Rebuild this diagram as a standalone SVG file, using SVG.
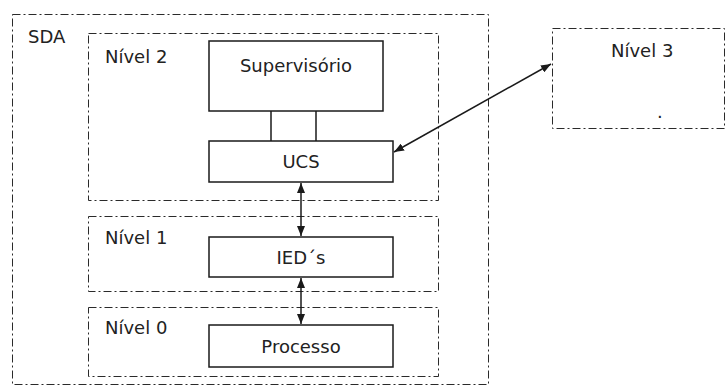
<svg xmlns="http://www.w3.org/2000/svg" width="726" height="385" viewBox="0 0 726 385">
  <style>
    .zone { fill: none; stroke: #2a2a2a; stroke-width: 1; stroke-dasharray: 8 3 2 3; }
    .box { fill: #ffffff; stroke: #1a1a1a; stroke-width: 1.5; }
    .link { fill: none; stroke: #1a1a1a; stroke-width: 1.5; }
    .lbl { font-family: "DejaVu Sans", "Liberation Sans", sans-serif; font-size: 18px; fill: #222222; }
    .mid { text-anchor: middle; }
  </style>
  <defs>
    <marker id="arrow" viewBox="0 0 10 8" refX="10" refY="4" markerWidth="10" markerHeight="8" markerUnits="userSpaceOnUse" orient="auto-start-reverse">
      <path d="M0,0 L10,4 L0,8 Z" fill="#1a1a1a"/>
    </marker>
  </defs>
  <rect width="726" height="385" fill="#ffffff"/>

  <!-- SDA boundary -->
  <g id="sda">
    <rect class="zone" x="12.5" y="14.5" width="476" height="370"/>
    <text class="lbl" x="28" y="43">SDA</text>
  </g>

  <!-- Level 2 -->
  <g id="nivel2">
    <rect class="zone" x="88.5" y="33.5" width="350" height="167"/>
    <text class="lbl" x="105" y="63">Nível 2</text>
  </g>

  <!-- Level 1 -->
  <g id="nivel1">
    <rect class="zone" x="88.5" y="216.5" width="350" height="75"/>
    <text class="lbl" x="105" y="244">Nível 1</text>
  </g>

  <!-- Level 0 -->
  <g id="nivel0">
    <rect class="zone" x="88.5" y="307.5" width="350" height="69"/>
    <text class="lbl" x="105" y="334">Nível 0</text>
  </g>

  <!-- Level 3 -->
  <g id="nivel3">
    <rect class="zone" x="552.5" y="28.5" width="172" height="100"/>
    <text class="lbl" x="611" y="57">Nível 3</text>
    <text class="lbl" x="657" y="118" font-size="12">.</text>
  </g>

  <!-- Nodes -->
  <g id="supervisorio">
    <rect class="box" x="209" y="41" width="174" height="70"/>
    <text class="lbl mid" x="296" y="72">Supervisório</text>
  </g>
  <g id="ucs">
    <rect class="box" x="209" y="141" width="184" height="41"/>
    <text class="lbl mid" x="301" y="168">UCS</text>
  </g>
  <g id="ieds">
    <rect class="box" x="209" y="237" width="184" height="40"/>
    <text class="lbl mid" x="301" y="264">IED´s</text>
  </g>
  <g id="processo">
    <rect class="box" x="209" y="325" width="184" height="42"/>
    <text class="lbl mid" x="301" y="353">Processo</text>
  </g>

  <!-- Connectors -->
  <g id="connectors">
    <line class="link" x1="271" y1="111" x2="271" y2="141"/>
    <line class="link" x1="316" y1="111" x2="316" y2="141"/>
    <line class="link" x1="301" y1="183" x2="301" y2="236" marker-start="url(#arrow)" marker-end="url(#arrow)"/>
    <line class="link" x1="301" y1="278" x2="301" y2="324" marker-start="url(#arrow)" marker-end="url(#arrow)"/>
    <line class="link" x1="394" y1="152" x2="551" y2="64" marker-start="url(#arrow)" marker-end="url(#arrow)"/>
  </g>
</svg>
